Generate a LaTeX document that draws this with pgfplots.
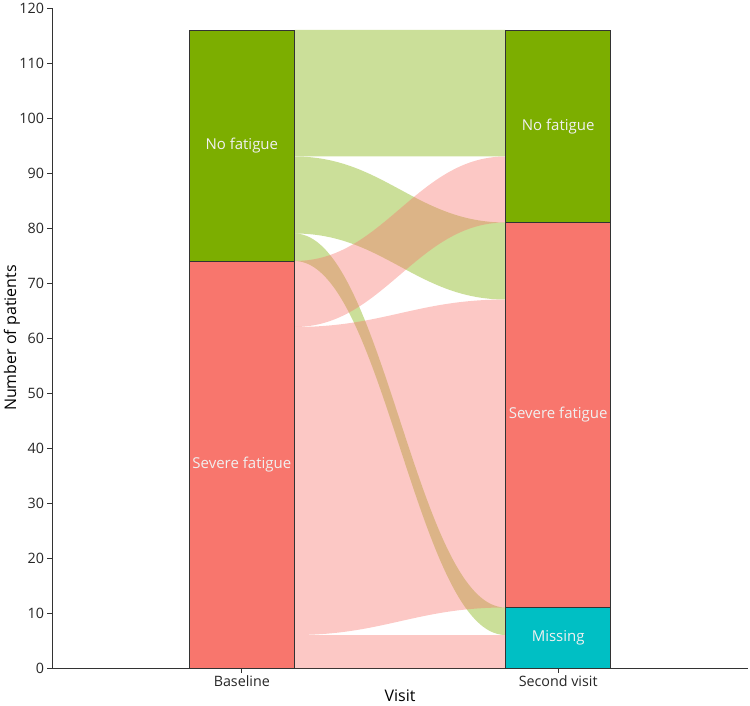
\documentclass[border=0pt]{standalone}
\usepackage{fontspec}
\setmainfont{Open Sans}
\usepackage{pgfplots}
\pgfplotsset{compat=1.18}
\definecolor{nofat}{HTML}{7CAE00}
\definecolor{sevfat}{HTML}{F8766D}
\definecolor{missing}{HTML}{00BFC4}
\definecolor{axgray}{HTML}{333333}
% flow: bottom0, top0, bottom1, top1, colour
\newcommand{\flow}[5]{\fill[#5, fill opacity=0.4] (axis cs:1.16667,#1) .. controls (axis cs:1.4467,#1) and (axis cs:1.5533,#3) .. (axis cs:1.83333,#3) -- (axis cs:1.83333,#4) .. controls (axis cs:1.5533,#4) and (axis cs:1.4467,#2) .. (axis cs:1.16667,#2) -- cycle;}
\begin{document}
\begin{tikzpicture}
\useasboundingbox (-52pt,-37pt) rectangle (698pt,668pt);
\begin{axis}[
  at={(0,0)}, anchor=south west,
  scale only axis, width=696pt, height=660pt,
  xmin=0.4, xmax=2.6, ymin=0, ymax=120,
  axis x line=bottom, axis y line=left,
  axis line style={-, axgray, line width=0.8pt},
  xtick={1,2}, xticklabels={Baseline, Second visit},
  ytick={0,10,...,120},
  tick align=outside, major tick length=4.5pt,
  tick style={axgray, line width=0.8pt},
  /pgf/number format/assume math mode=true,
  ticklabel style={font=\fontsize{14.3}{16}\selectfont, text=black!85},
  xlabel={Visit}, ylabel={Number of patients},
  every axis x label/.style={at={(axis description cs:0.5,-0.0415)}, anchor=center, font=\fontsize{16}{18}\selectfont},
  every axis y label/.style={at={(axis description cs:-0.0575,0.5)}, anchor=center, rotate=90, font=\fontsize{16}{18}\selectfont},
  clip=false,
]
% green flows first
\flow{93}{116}{93}{116}{nofat}
\flow{79}{93}{67}{81}{nofat}
\flow{74}{79}{6}{11}{nofat}
% pink flows
\flow{62}{74}{81}{93}{sevfat}
\flow{6}{62}{11}{67}{sevfat}
\flow{0}{6}{0}{6}{sevfat}
% strata
\addplot[fill=sevfat, draw=axgray, line width=0.9pt] coordinates {(0.83333,0) (1.16667,0) (1.16667,74) (0.83333,74)} -- cycle;
\addplot[fill=nofat, draw=axgray, line width=0.9pt] coordinates {(0.83333,74) (1.16667,74) (1.16667,116) (0.83333,116)} -- cycle;
\addplot[fill=missing, draw=axgray, line width=0.9pt] coordinates {(1.83333,0) (2.16667,0) (2.16667,11) (1.83333,11)} -- cycle;
\addplot[fill=sevfat, draw=axgray, line width=0.9pt] coordinates {(1.83333,11) (2.16667,11) (2.16667,81) (1.83333,81)} -- cycle;
\addplot[fill=nofat, draw=axgray, line width=0.9pt] coordinates {(1.83333,81) (2.16667,81) (2.16667,116) (1.83333,116)} -- cycle;
\begin{scope}[every node/.style={text=white!94!black, font=\fontsize{15}{18}\selectfont}]
\node at (axis cs:1,95) {No fatigue};
\node at (axis cs:1,37) {Severe fatigue};
\node at (axis cs:2,98.5) {No fatigue};
\node at (axis cs:2,46) {Severe fatigue};
\node at (axis cs:2,5.5) {Missing};
\end{scope}
\end{axis}
\end{tikzpicture}
\end{document}
